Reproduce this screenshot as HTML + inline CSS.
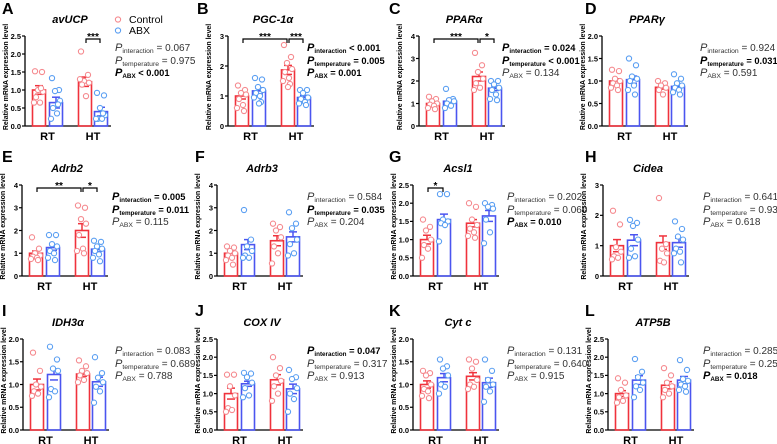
<!DOCTYPE html>
<html><head><meta charset="utf-8">
<style>
body{margin:0;background:#fff;}
svg{display:block;font-family:"Liberation Sans",Arial,sans-serif;}
</style></head>
<body>
<svg id="fig" width="777" height="444" viewBox="0 0 777 444" xmlns="http://www.w3.org/2000/svg"></svg>
<script>
const panelLetters = ["A","B","C","D","E","F","G","H","I","J","K","L"];
const genes = ["avUCP","PGC-1α","PPARα","PPARγ","Adrb2","Adrb3","Acsl1","Cidea","IDH3α","COX IV","Cyt c","ATP5B"];
const yMaxes = [2.5,3,4,2,4,4,2.5,3,2,2.5,2,2.5];
const yStep = [0.5,1,1,0.5,1,1,0.5,1,0.5,0.5,0.5,0.5];
const groupLabels = ["RT","HT"];
const means = [
 [1.0,0.65,1.23,0.4],[1.0,1.17,1.87,0.95],[1.0,1.1,2.2,1.68],[1.0,1.03,0.86,0.88],
 [1.0,1.25,2.0,1.18],[1.0,1.38,1.55,1.72],[1.0,1.55,1.45,1.65],[1.0,1.18,1.1,1.1],
 [1.0,1.22,1.23,1.06],[1.0,1.27,1.38,1.13],[1.0,1.15,1.18,1.04],[1.0,1.37,1.23,1.37]];
const sems = [
 [0.12,0.15,0.13,0.12],[0.1,0.1,0.15,0.07],[0.07,0.08,0.2,0.1],[0.05,0.08,0.04,0.05],
 [0.1,0.12,0.3,0.1],[0.1,0.22,0.22,0.22],[0.12,0.15,0.1,0.15],[0.2,0.18,0.22,0.15],
 [0.12,0.12,0.05,0.1],[0.15,0.07,0.14,0.13],[0.08,0.09,0.08,0.1],[0.08,0.12,0.1,0.1]];
const points = [
 [[1.52,1.5,1.0,0.95,0.8,0.65,0.65,1.05],[1.33,1.0,0.97,0.7,0.5,0.35,0.2,0.6],[2.07,1.42,1.25,1.2,1.15,0.83,1.3],[0.92,0.85,0.5,0.3,0.2,0.2,0.2,0.35]],
 [[1.35,1.2,1.1,1.05,0.9,0.7,0.6,0.5],[1.6,1.55,1.3,1.2,1.1,1.0,0.95,0.8,0.75],[2.7,2.3,2.1,1.9,1.8,1.6,1.5,1.4,1.3],[1.2,1.2,1.1,0.95,0.9,0.8,0.75,0.7]],
 [[1.3,1.2,1.1,1.0,0.95,0.9,0.8,0.75],[1.65,1.2,1.15,1.1,1.0,0.9,0.8],[3.25,2.7,2.4,2.1,1.9,1.7,1.6],[2.0,2.0,1.85,1.7,1.6,1.4,1.2,1.15]],
 [[1.25,1.22,1.05,1.0,0.95,0.9,0.85,0.8],[1.5,1.35,1.1,1.05,1.0,0.9,0.8,0.7],[1.0,0.95,0.9,0.85,0.8,0.7],[1.15,1.05,0.95,0.9,0.85,0.8,0.75,0.7]],
 [[1.7,1.2,1.0,0.9,0.85,0.8,0.75,0.7],[1.8,1.8,1.4,1.3,1.1,1.0,0.8,0.7],[3.1,3.0,2.5,2.3,1.8,1.2,1.1,1.0],[1.55,1.5,1.3,1.2,1.1,0.95,0.8,0.65]],
 [[1.3,1.25,1.1,1.0,0.9,0.8,0.7,0.5],[2.9,1.6,1.3,1.1,0.9,0.8,0.8],[2.3,2.15,2.0,1.7,1.3,1.0,0.55],[2.8,2.3,2.1,1.6,1.4,1.0,0.9]],
 [[1.55,1.35,1.25,1.0,0.85,0.75,0.5],[2.25,2.25,1.55,1.5,1.45,1.4,0.95],[2.0,1.9,1.55,1.4,1.3,1.2,1.1,1.05],[2.0,1.95,1.9,1.85,1.55,1.2,0.9]],
 [[2.15,1.7,0.95,0.8,0.65,0.6,0.55],[1.85,1.75,1.65,1.2,0.9,0.65,0.6],[2.57,1.05,0.9,0.75,0.5,0.45],[1.8,1.55,1.3,1.2,0.9,0.8,0.75,0.45]],
 [[1.7,1.3,1.0,0.95,0.85,0.8,0.75],[1.83,1.55,1.35,1.3,0.9,0.85,0.72],[1.53,1.4,1.3,1.25,1.2,1.1,1.05],[1.6,1.25,1.15,1.05,0.95,0.85,0.6]],
 [[1.52,1.52,1.2,0.95,0.6,0.55,0.5],[1.57,1.55,1.45,1.3,1.15,0.95,0.9],[2.0,1.7,1.5,1.35,1.2,1.0,0.8],[1.65,1.45,1.4,1.15,1.0,0.85,0.5]],
 [[1.3,1.25,1.2,1.0,0.9,0.85,0.75,0.7],[1.55,1.4,1.35,1.2,1.0,0.95,0.8],[1.55,1.5,1.35,1.1,1.0,0.95,0.9],[1.55,1.3,1.1,1.0,0.95,0.85,0.62]],
 [[1.42,1.3,1.1,0.95,0.9,0.8,0.75],[1.95,1.6,1.45,1.3,1.2,1.1,0.9],[1.7,1.5,1.3,1.2,1.1,1.0,0.9],[1.92,1.65,1.4,1.35,1.25,1.2,1.1,1.05]]];
const brackets = [[0,2,3,"***"],[1,0,2,"***"],[1,2,3,"***"],[2,0,2,"***"],[2,2,3,"*"],[4,0,2,"**"],[4,2,3,"*"],[6,0,1,"*"]];
const pValues = [
 ["= 0.067","= 0.975","< 0.001"],["< 0.001","= 0.005","= 0.001"],["= 0.024","< 0.001","= 0.134"],["= 0.924","= 0.031","= 0.591"],
 ["= 0.005","= 0.011","= 0.115"],["= 0.584","= 0.035","= 0.204"],["= 0.202","= 0.060","= 0.010"],["= 0.641","= 0.933","= 0.618"],
 ["= 0.083","= 0.689","= 0.788"],["= 0.047","= 0.317","= 0.913"],["= 0.131","= 0.640","= 0.915"],["= 0.285","= 0.259","= 0.018"]];
const pBold = [[0,0,1],[1,1,1],[1,1,0],[0,1,0],[1,1,0],[0,1,0],[0,0,1],[0,0,0],[0,0,0],[1,0,0],[0,0,0],[0,0,1]];

const axX = [25,228,419,602,22,217,413,603,23,217,413,608];
const pX = [115,307,502,700,112,307,507,703,115,307,507,703];
const rowY0 = [126,276,430];
const rowTop = [36,185,339];
const letterX = [2,197,389,585,2,195,389,585,2,195,389,585];
const letterY = [14,162,316];
const gOff = [14,31,60,76];
const barW = 13;
const RED="#f0323c", BLUE="#4b55f0", RED_P="#f58a8f", BLUE_P="#5b9ff2";
const NS="http://www.w3.org/2000/svg";
const svg=document.getElementById('fig');
function mk(tag,attrs,parent){const e=document.createElementNS(NS,tag);for(const k in attrs)e.setAttribute(k,attrs[k]);(parent||svg).appendChild(e);return e;}
const jit=[-4,3,-1,4,-3,1,-5,2,0];

for(let p=0;p<12;p++){
  const row=Math.floor(p/4);
  const ax=axX[p], y0=rowY0[row], yt=rowTop[row], max=yMaxes[p];
  const ys=v=>y0-(v/max)*(y0-yt);
  const g=mk('g',{});
  
  
  const L=mk('text',{x:letterX[p],y:letterY[row],'font-size':16,'font-weight':'bold'},g);L.textContent=panelLetters[p];
  
  const T=mk('text',{x:ax+45,y:yt-13,'font-size':11,'font-weight':'bold','font-style':'italic','text-anchor':'middle'},g);T.textContent=genes[p];
  
  const YL=mk('text',{x:0,y:0,'font-size':7,'font-weight':'bold','text-anchor':'middle',transform:`translate(${ax-17},${(y0+yt)/2-4}) rotate(-90)`},g);YL.textContent='Relative mRNA expression level';
  
  const ya=mk('line',{x1:ax,y1:yt,x2:ax,y2:y0,stroke:'#000','stroke-width':1.3},g);
  
  const xa=mk('line',{x1:ax,y1:y0,x2:ax+86,y2:y0,stroke:'#000','stroke-width':1.3},g);
  
  for(let v=0;v<=max+1e-9;v+=yStep[p]){
    const y=ys(v);
    mk('line',{x1:ax-3,y1:y,x2:ax,y2:y,stroke:'#000','stroke-width':1.2},g);
    const t=mk('text',{x:ax-4,y:y+2.8,'font-size':7.5,'font-weight':'bold','text-anchor':'end'},g);
    t.textContent=(yStep[p]<1?v.toFixed(1):String(Math.round(v)));
    
  }
  for(let c=0;c<2;c++){
    const t=mk('text',{x:ax+(gOff[2*c]+gOff[2*c+1])/2,y:y0+14,'font-size':11,'font-weight':'bold','text-anchor':'middle'},g);
    t.textContent=groupLabels[c];
    
  }
  for(let k=0;k<4;k++){
    const cx=ax+gOff[k], col=k%2?BLUE:RED, pc=k%2?BLUE_P:RED_P;
    const m=means[p][k], s=sems[p][k];
    const b=mk('rect',{x:cx-barW/2,y:ys(m),width:barW,height:y0-ys(m),fill:'none',stroke:col,'stroke-width':1.6},g);
    
    mk('line',{x1:cx,y1:ys(m+s),x2:cx,y2:ys(m),stroke:col,'stroke-width':1.5},g);
    mk('line',{x1:cx-4,y1:ys(m+s),x2:cx+4,y2:ys(m+s),stroke:col,'stroke-width':1.5},g);
    mk('line',{x1:cx-4,y1:ys(m-s),x2:cx+4,y2:ys(m-s),stroke:col,'stroke-width':1.5},g);
    points[p][k].forEach((v,i)=>{
      const c=mk('circle',{cx:cx+jit[i%jit.length],cy:ys(v),r:2.6,fill:'#fff',stroke:pc,'stroke-width':1.1},g);
      
    });
  }
  const px=pX[p];
  const labs=['interaction','temperature','ABX'];
  const dy=[15,28,40];
  for(let i=0;i<3;i++){
    const bd=pBold[p][i];
    const t=mk('text',{x:px,y:yt+dy[i],'font-size':bd?9.3:10,'font-weight':bd?'bold':'normal',fill:bd?'#000':'#333'},g);
    
    const a=mk('tspan',{'font-style':'italic','font-size':11},t);a.textContent='P';
    const b2=mk('tspan',{'font-size':bd?6.3:6.8,dy:2},t);b2.textContent=labs[i];
    const c2=mk('tspan',{dy:-2},t);c2.textContent=' '+pValues[p][i];
  }
}
brackets.forEach(([p,a,b,st])=>{
  const row=Math.floor(p/4), ax=axX[p], yt=rowTop[row];
  const y=yt+3, x1=ax+gOff[a], x2=ax+gOff[b];
  const g=mk('g',{});
  
  
  mk('path',{d:`M${x1+1},${y+4}V${y}H${x2-1}V${y+4}`,fill:'none',stroke:'#000','stroke-width':1.2},g);
  const t=mk('text',{x:(x1+x2)/2,y:y+1,'font-size':10,'font-weight':'bold','text-anchor':'middle'},g);t.textContent=st;
});
const lg=mk('g',{});


[["Control",RED_P,23],["ABX",BLUE_P,34]].forEach(([n,c,y])=>{
  mk('circle',{cx:118,cy:y-3.5,r:2.6,fill:'#fff',stroke:c,'stroke-width':1.1},lg);
  const t=mk('text',{x:129,y:y,'font-size':10.5},lg);t.textContent=n;
  
});
</script>
</body></html>
